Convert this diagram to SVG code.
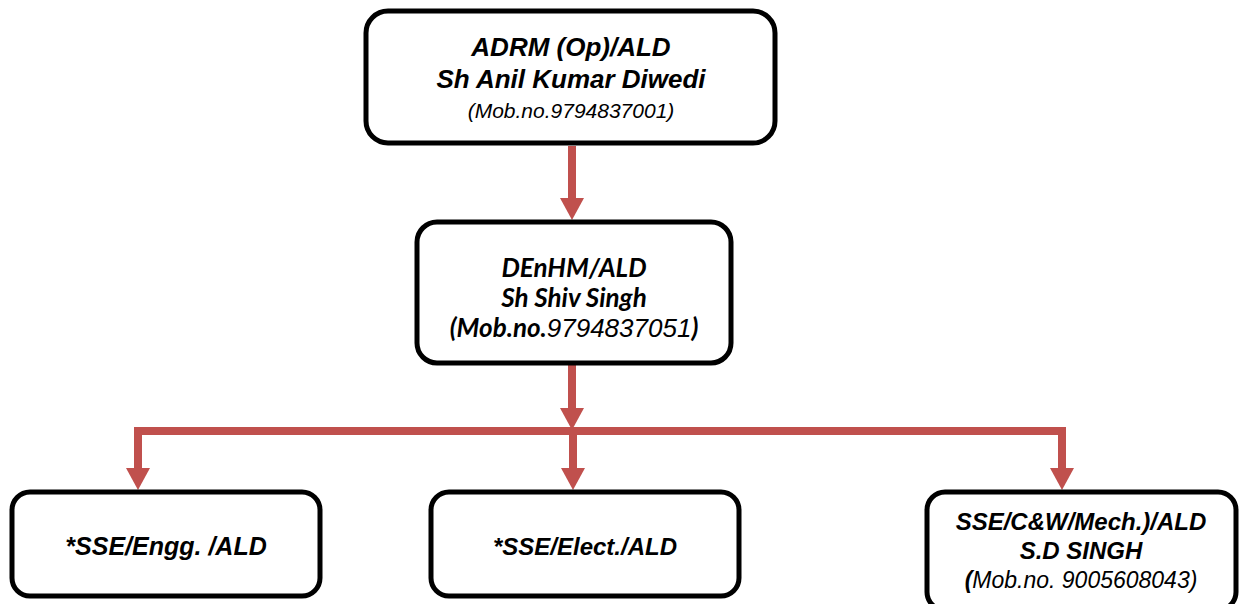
<svg xmlns="http://www.w3.org/2000/svg" width="1239" height="604" viewBox="0 0 1239 604">
<style>
.box{fill:#fff;stroke:#000;stroke-width:5}
.t{font-family:"Liberation Sans",Arial,sans-serif;font-style:italic;text-anchor:middle;fill:#000}
.b{font-weight:bold}
.c{font-family:Lato,"Liberation Sans",sans-serif;font-style:italic;font-weight:bold;text-anchor:middle;fill:#000}
.d{font-family:"Liberation Sans",Arial,sans-serif;font-weight:normal}
.ln{stroke:#C0504D;stroke-width:8;fill:none}
.hd{fill:#C0504D}
</style>
<rect width="1239" height="604" fill="#fff"/>
<g id="connectors">
<line class="ln" x1="572" y1="146" x2="572" y2="199"/>
<polygon class="hd" points="560,198 584,198 572,220"/>
<line class="ln" x1="572" y1="365" x2="572" y2="409"/>
<polygon class="hd" points="560,408 584,408 572,430"/>
<polyline class="ln" points="138,469 138,431 1062,431 1062,469"/>
<line class="ln" x1="573" y1="431" x2="573" y2="469"/>
<polygon class="hd" points="126,468 150,468 138,490"/>
<polygon class="hd" points="561,468 585,468 573,490"/>
<polygon class="hd" points="1050,468 1074,468 1062,490"/>
</g>
<g id="n1">
<rect class="box" x="366" y="11" width="409" height="132" rx="22"/>
<text class="t b" x="571" y="56" font-size="26">ADRM (Op)/ALD</text>
<text class="t b" x="571" y="88" font-size="26">Sh Anil Kumar Diwedi</text>
<text class="t" x="571" y="118" font-size="21">(Mob.no.9794837001)</text>
</g>
<g id="n2">
<rect class="box" x="417" y="222" width="314" height="141" rx="20"/>
<text class="c" x="574" y="277" font-size="26">DEnHM/ALD</text>
<text class="c" x="574" y="307" font-size="26">Sh Shiv Singh</text>
<text class="c" x="574" y="337" font-size="26">(Mob.no.<tspan class="d">9794837051</tspan>)</text>
</g>
<g id="n3">
<rect class="box" x="12" y="492" width="308" height="104" rx="18"/>
<text class="t b" x="166" y="555" font-size="25">*SSE/Engg. /ALD</text>
</g>
<g id="n4">
<rect class="box" x="431" y="492" width="308" height="104" rx="18"/>
<text class="t b" x="585" y="555" font-size="24">*SSE/Elect./ALD</text>
</g>
<g id="n5">
<rect class="box" x="927" y="492" width="309" height="118" rx="18"/>
<text class="t b" x="1081" y="530" font-size="24">SSE/C&amp;W/Mech.)/ALD</text>
<text class="t b" x="1081" y="559" font-size="24">S.D SINGH</text>
<text class="t" x="1081" y="588" font-size="23"><tspan font-weight="bold">(</tspan>Mob.no. 9005608043)</text>
</g>
</svg>
